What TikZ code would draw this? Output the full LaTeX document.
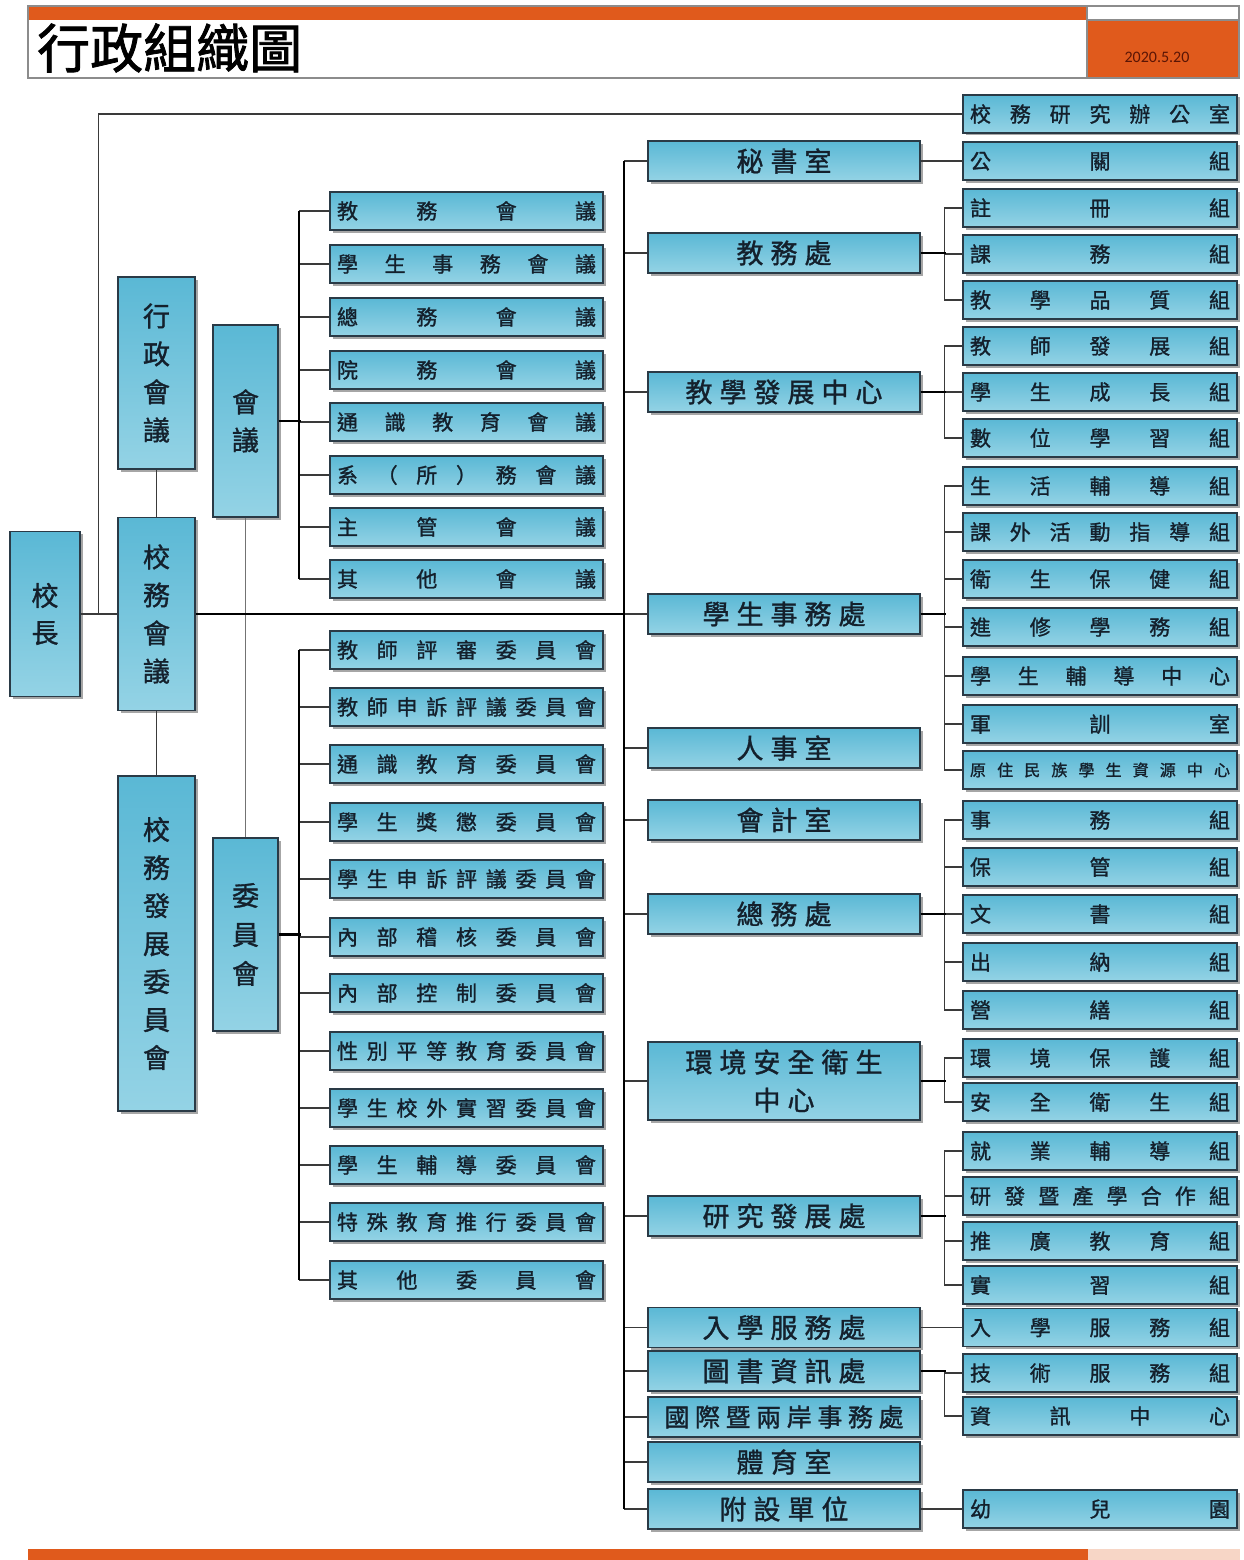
\documentclass[tikz,border=0pt]{standalone}
\usepackage{fontspec}
\newfontfamily\cjk{Noto Sans CJK TC}[FakeBold=1.2]
\newfontfamily\cjktitle{Noto Sans CJK TC}[FakeBold=1.5]
\newfontfamily\datefont{Carlito}
\usetikzlibrary{shadows}
\definecolor{boxtop}{HTML}{5AB8D5}
\definecolor{boxbot}{HTML}{94D3E5}
\definecolor{boxline}{HTML}{2A3A46}
\definecolor{txt}{HTML}{14202C}
\definecolor{hdr}{HTML}{E05A1C}
\definecolor{peach}{HTML}{F7D6C6}
\definecolor{lnc}{HTML}{3A3A3A}
\definecolor{datec}{HTML}{5A1505}
% spread characters over a fixed width
\def\sprdA#1#2{#1\ifx\relax#2\else\hfill\expandafter\sprdA\expandafter#2\fi}
\newcommand\jt[2]{\edef\jtarg{#2}\makebox[#1]{\expandafter\sprdA\jtarg\relax}}
% each character in a box of fixed width
\def\spcw{34pt}
\def\spcA#1{\ifx\relax#1\else\makebox[\spcw]{#1}\expandafter\spcA\fi}
\newcommand\sq[1]{\edef\sqarg{#1}\expandafter\spcA\sqarg\relax}
\begin{document}
\begin{tikzpicture}[x=1pt,y=-1pt,
  box/.style={draw=boxline,line width=1.4pt,top color=boxtop,bottom color=boxbot,
    drop shadow={shadow xshift=2.5pt,shadow yshift=-2.5pt,fill=black,opacity=0.35},
    inner sep=0pt,text=txt,anchor=center},
  rbox/.style={box,minimum width=274pt,minimum height=38pt,font=\cjk\fontsize{21}{21}\selectfont},
  mbox/.style={box,minimum width=273pt,minimum height=38pt,font=\cjk\fontsize{21}{21}\selectfont},
  ubox/.style={box,minimum width=272pt,minimum height=40pt,font=\cjk\fontsize{27}{27}\selectfont},
  vbox/.style={box,align=center,font=\cjk\fontsize{27}{38}\selectfont},
  conn/.style={draw=lnc,line width=1.3pt},
  conng/.style={draw=black!55,line width=1.3pt},
  bus/.style={draw=black,line width=2pt},
  trunk/.style={draw=black,line width=2.8pt}]
\useasboundingbox (0,0) rectangle (1243,1560);
% header
\fill[white] (0,0) rectangle (1243,1560);
\fill[hdr] (28,6) rectangle (1087,20);
\draw[black!45,line width=1.5pt] (28,6) rectangle (1087,78);
\fill[hdr] (1087,20) rectangle (1239,78);
\draw[black!45,line width=1.5pt] (1087,6) rectangle (1239,78);
\draw[black!45,line width=1.2pt] (1087,20) -- (1239,20);
\node[anchor=west,inner sep=0pt,font=\cjktitle\fontsize{53}{53}\selectfont] (title) at (37,48) {行政組織圖};
\node[inner sep=0pt,text=datec,font=\datefont\fontsize{16}{16}\selectfont] (date) at (1157,57) {2020.5.20};
% footer
\fill[hdr] (28,1549) rectangle (1088,1560);
\fill[peach] (1088,1549) rectangle (1240,1560);
% left column
\node[vbox,minimum width=70pt,minimum height=165pt,font=\cjk\fontsize{27}{37}\selectfont] (xz) at (45,614) {校\\長};
\node[vbox,minimum width=77pt,minimum height=192pt] (xzhy) at (156.5,373) {行\\政\\會\\議};
\node[vbox,minimum width=77pt,minimum height=193pt] (xwhy) at (156.5,614) {校\\務\\會\\議};
\node[vbox,minimum width=77pt,minimum height=335pt] (xwfz) at (156.5,943.5) {校\\務\\發\\展\\委\\員\\會};
\node[vbox,minimum width=65pt,minimum height=192pt] (hy) at (245.5,421) {會\\議};
\node[vbox,minimum width=65pt,minimum height=193pt,font=\cjk\fontsize{27}{39}\selectfont] (wyh) at (245.5,934.5) {委\\員\\會};
% meetings
\foreach \n/\yy/\t in {1/211/教務會議,2/264/學生事務會議,3/317/總務會議,4/370/院務會議,
  5/422/通識教育會議,6/475/系（所）務會議,7/527/主管會議,8/579/其他會議}
  \node[mbox] (m\n) at (466.5,\yy) {\jt{259pt}{\t}};
% committees
\foreach \n/\yy/\t in {1/650/教師評審委員會,2/707/教師申訴評議委員會,3/764/通識教育委員會,
  4/822/學生獎懲委員會,5/879/學生申訴評議委員會,6/937/內部稽核委員會,7/993/內部控制委員會,
  8/1051/性別平等教育委員會,9/1108/學生校外實習委員會,10/1165/學生輔導委員會,
  11/1222/特殊教育推行委員會,12/1280/其他委員會}
  \node[mbox] (c\n) at (466.5,\yy) {\jt{259pt}{\t}};
% units
\foreach \n/\yy/\t in {1/161/秘書室,2/253/教務處,3/392/教學發展中心,4/614/學生事務處,
  5/748/人事室,6/820/會計室,7/914/總務處,9/1216/研究發展處,10/1327.5/入學服務處,
  11/1371/圖書資訊處,13/1462/體育室,14/1509/附設單位}
  \node[ubox] (u\n) at (784,\yy) {\sq{\t}};
\node[ubox,minimum height=78pt,align=center,font=\cjk\fontsize{27}{38}\selectfont] (u8) at (784,1081) {\sq{環境安全衛生}\\\sq{中心}};
\node[ubox,font=\cjk\fontsize{25}{25}\selectfont] (u12) at (784,1417) {\def\spcw{30.6pt}\sq{國際暨兩岸事務處}};
% right column
\foreach \n/\yy/\t in {1/114/校務研究辦公室,2/161/公關組,3/208/註冊組,4/254/課務組,5/300/教學品質組,
  6/346/教師發展組,7/392/學生成長組,8/438/數位學習組,9/486/生活輔導組,10/532/課外活動指導組,
  11/579/衛生保健組,12/627/進修學務組,13/676/學生輔導中心,14/724/軍訓室,
  16/820/事務組,17/867/保管組,18/914/文書組,19/962/出納組,20/1010/營繕組,
  21/1058/環境保護組,22/1102/安全衛生組,23/1151/就業輔導組,24/1196/研發暨產學合作組,
  25/1241/推廣教育組,26/1285/實習組,27/1327.5/入學服務組,28/1373/技術服務組,29/1416/資訊中心,
  30/1509/幼兒園}
  \node[rbox] (r\n) at (1100,\yy) {\jt{260pt}{\t}};
\node[rbox,font=\cjk\fontsize{16}{16}\selectfont] (r15) at (1100,770) {\jt{260pt}{原住民族學生資源中心}};
% connectors: left side
\draw[conn] (xz.east) -- (xwhy.west);
\draw[conn] (xz.east) -- ++(18,0) |- (r1.west);
\draw[conn] (xzhy.south) -- (xwhy.north);
\draw[conn] (xwhy.south) -- (xwfz.north);
\draw[conng] (hy.south) -- (wyh.north);
% meetings bus
\foreach \i in {1,...,8} \draw[conn] ([xshift=-30pt]m\i.west) -- (m\i.west);
\draw[bus] ([xshift=-30pt]m1.west) -- ([xshift=-30pt]m8.west);
\draw[trunk] (hy.east) -- ++(22,0);
% committees bus
\foreach \i in {1,...,12} \draw[conn] ([xshift=-30pt]c\i.west) -- (c\i.west);
\draw[bus] ([xshift=-30pt]c1.west) -- ([xshift=-30pt]c12.west);
\draw[trunk] (wyh.east) -- ++(22,0);
% main bus
\foreach \i in {1,...,14} \draw[conn] ([xshift=-23pt]u\i.west) -- (u\i.west);
\draw[bus] ([xshift=-23pt]u1.west) -- ([xshift=-23pt]u14.west);
\draw[trunk] (xwhy.east) -- ([xshift=-23pt]u4.west);
% unit -> groups
\draw[conn] (u1.east) -- (r2.west);
\draw[conn] (u10.east) -- (r27.west);
\draw[conn] (u14.east) -- (r30.west);
\foreach \p/\a/\b in {2/3/5,3/6/8,4/9/15,7/16/20,8/21/22,9/23/26,11/28/29}{
  \foreach \c in {\a,...,\b} \draw[conn] (u\p.east) -| ([xshift=-18pt]r\c.west) -- (r\c.west);
  \draw[trunk] (u\p.east) -- ++(25,0);
}
\end{tikzpicture}
\end{document}
